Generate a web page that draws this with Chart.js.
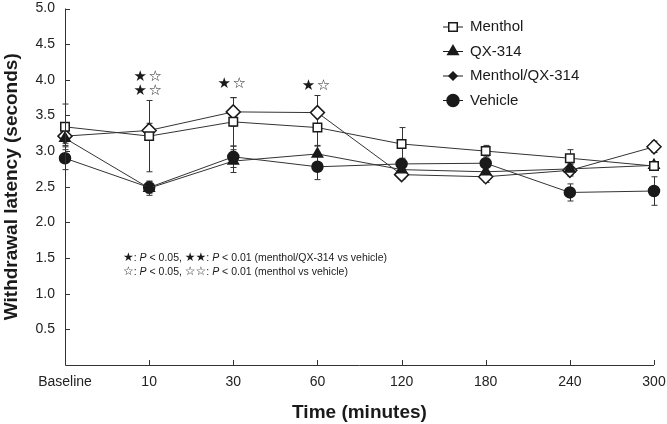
<!DOCTYPE html>
<html>
<head>
<meta charset="utf-8">
<script src="https://cdn.jsdelivr.net/npm/chart.js@4.4.0/dist/chart.umd.min.js"></script>
<style>
  html, body { margin: 0; padding: 0; background: #fff; }
  #wrap { width: 667px; height: 424px; position: relative; }
</style>
</head>
<body>
<div id="wrap"><canvas id="grafico"></canvas></div>
<script>
// --- dados ---
const tempos = ['Baseline', '10', '30', '60', '120', '180', '240', '300'];
const yTicks = [0.5, 1.0, 1.5, 2.0, 2.5, 3.0, 3.5, 4.0, 4.5, 5.0];

const menthol = [3.34, 3.21, 3.41, 3.33, 3.10, 3.00, 2.90, 2.79];
const mentholErr = [0.32, 0.50, 0.34, 0.26, 0.23, 0.08, 0.12, 0.05];
const qx314 = [3.18, 2.48, 2.86, 2.96, 2.74, 2.71, 2.75, 2.80];
const qx314Err = [0.10, 0.10, 0.16, 0.12, 0.06, 0.06, 0.08, 0.05];
const mentholQx = [3.21, 3.29, 3.55, 3.54, 2.67, 2.64, 2.73, 3.06];
const mentholQxErr = [0.10, 0.10, 0.20, 0.24, 0.06, 0.08, 0.08, 0.08];
const vehicle = [2.90, 2.49, 2.92, 2.78, 2.82, 2.83, 2.42, 2.44];
const vehicleErr = [0.16, 0.08, 0.15, 0.18, 0.08, 0.06, 0.12, 0.20];

// estrelas de significância: índice da categoria -> linhas [cheia, vazia]
const estrelas = { 1: [['★', '☆'], ['★', '☆']], 2: [['★', '☆']], 3: [['★', '☆']] };
const estrelasY = { 1: 4.04, 2: 3.94, 3: 3.91 };

const FONTE = '"Liberation Sans", Arial, sans-serif';
const PRETO = '#1a1a1a';

const series = [
    { label: 'Menthol', data: menthol, err: mentholErr, pointStyle: 'rect', radius: 6, fill: '#fff' },
    { label: 'QX-314', data: qx314, err: qx314Err, pointStyle: 'triangle', radius: 6, fill: PRETO },
    { label: 'Menthol/QX-314', data: mentholQx, err: mentholQxErr, pointStyle: 'rectRot', radius: 7, fill: '#fff' },
    { label: 'Vehicle', data: vehicle, err: vehicleErr, pointStyle: 'circle', radius: 5.5, fill: PRETO }
];

// barras de erro, eixos com ticks para dentro, legenda e anotações
const pluginExtras = {
    id: 'extras',
    beforeDatasetsDraw(chart) {
        const ctx = chart.ctx;
        const x = chart.scales.x, y = chart.scales.y;
        ctx.save();
        ctx.strokeStyle = '#333';
        ctx.lineWidth = 1;
        series.forEach(s => {
            s.data.forEach((v, i) => {
                const px = Math.round(x.getPixelForValue(i)) + 0.5;
                const top = y.getPixelForValue(v + s.err[i]);
                const bot = y.getPixelForValue(v - s.err[i]);
                ctx.beginPath();
                ctx.moveTo(px, top); ctx.lineTo(px, bot);
                ctx.moveTo(px - 3, top); ctx.lineTo(px + 3, top);
                ctx.moveTo(px - 3, bot); ctx.lineTo(px + 3, bot);
                ctx.stroke();
            });
        });
        ctx.restore();
    },
    afterDraw(chart) {
        const ctx = chart.ctx;
        const x = chart.scales.x, y = chart.scales.y;
        const area = chart.chartArea;
        ctx.save();
        // eixos
        ctx.strokeStyle = '#333';
        ctx.lineWidth = 1;
        ctx.beginPath();
        ctx.moveTo(area.left + 0.5, area.top);
        ctx.lineTo(area.left + 0.5, area.bottom + 0.5);
        ctx.lineTo(area.right, area.bottom + 0.5);
        yTicks.forEach(t => {
            const py = Math.round(y.getPixelForValue(t)) + 0.5;
            ctx.moveTo(area.left, py); ctx.lineTo(area.left + 5, py);
        });
        tempos.forEach((t, i) => {
            if (i === 0) return;
            const px = Math.round(x.getPixelForValue(i)) + 0.5;
            ctx.moveTo(px, area.bottom); ctx.lineTo(px, area.bottom - 5);
        });
        ctx.stroke();

        // estrelas
        ctx.fillStyle = PRETO;
        ctx.font = '15px "DejaVu Sans", sans-serif';
        ctx.textAlign = 'center';
        ctx.textBaseline = 'middle';
        Object.keys(estrelas).forEach(k => {
            const px = x.getPixelForValue(+k) - 2;
            const py = y.getPixelForValue(estrelasY[k]);
            estrelas[k].forEach((linha, j) => {
                ctx.fillText(linha[0], px - 7, py + j * 14);
                ctx.fillText(linha[1], px + 8, py + j * 14);
            });
        });

        // nota de rodapé
        const notas = [
            [['★', 'sym'], [': ', 'n'], ['P', 'i'], [' < 0.05, ', 'n'], ['★★', 'sym'], [': ', 'n'], ['P', 'i'], [' < 0.01 (menthol/QX-314 vs vehicle)', 'n']],
            [['☆', 'sym'], [': ', 'n'], ['P', 'i'], [' < 0.05, ', 'n'], ['☆☆', 'sym'], [': ', 'n'], ['P', 'i'], [' < 0.01 (menthol vs vehicle)', 'n']]
        ];
        ctx.textAlign = 'left';
        notas.forEach((linha, j) => {
            let cx = 123;
            const cy = 258 + j * 14;
            linha.forEach(([txt, tipo]) => {
                if (tipo === 'sym') ctx.font = '12px "DejaVu Sans", sans-serif';
                else if (tipo === 'i') ctx.font = 'italic 10.5px ' + FONTE;
                else ctx.font = '10.5px ' + FONTE;
                ctx.fillText(txt, cx, cy);
                cx += ctx.measureText(txt).width;
            });
        });

        // legenda
        ctx.font = '15px ' + FONTE;
        ctx.textBaseline = 'middle';
        series.forEach((s, i) => {
            const ly = 27 + i * 24.5;
            const lx = 453;
            ctx.strokeStyle = PRETO;
            ctx.lineWidth = 1;
            ctx.beginPath();
            ctx.moveTo(lx - 10, ly); ctx.lineTo(lx + 10, ly);
            ctx.stroke();
            const ehCombo = s.label === 'Menthol/QX-314';
            ctx.fillStyle = ehCombo ? PRETO : s.fill;
            ctx.lineWidth = 1.5;
            Chart.helpers.drawPoint(ctx, { pointStyle: s.pointStyle, radius: ehCombo ? 4 : 6, borderWidth: 1.5 }, lx, ly);
            ctx.fillStyle = PRETO;
            ctx.fillText(s.label, 470, ly);
        });
        ctx.restore();
    }
};

new Chart(document.getElementById('grafico').getContext('2d'), {
    type: 'line',
    data: {
        labels: tempos,
        datasets: series.map(s => ({
            label: s.label,
            data: s.data,
            borderColor: '#333',
            borderWidth: 1,
            pointStyle: s.pointStyle,
            pointRadius: s.radius,
            pointBackgroundColor: s.fill,
            pointBorderColor: PRETO,
            pointBorderWidth: 1.5,
            tension: 0,
            fill: false
        }))
    },
    options: {
        responsive: true,
        maintainAspectRatio: false,
        animation: false,
        layout: { padding: { top: 7, right: 13, left: 0, bottom: 0 } },
        plugins: { legend: { display: false }, tooltip: { enabled: false } },
        scales: {
            x: {
                type: 'category',
                offset: false,
                grid: { display: false, drawTicks: false },
                border: { display: false },
                ticks: { color: '#222', font: { family: FONTE, size: 14 }, padding: 9, maxRotation: 0, autoSkip: false },
                title: { display: true, text: 'Time (minutes)', color: PRETO, font: { family: FONTE, size: 19, weight: 'bold' }, padding: { top: 6, bottom: 0 } },
                afterFit(scale) { scale.height = 59; scale.paddingLeft = 0; scale.paddingRight = 0; }
            },
            y: {
                min: 0,
                max: 5,
                grid: { display: false, drawTicks: false },
                border: { display: false },
                ticks: {
                    stepSize: 0.5,
                    color: '#222',
                    font: { family: FONTE, size: 14 },
                    padding: 10,
                    callback: v => v === 0 ? '' : v.toFixed(1)
                },
                title: { display: true, text: 'Withdrawal latency (seconds)', color: PRETO, font: { family: FONTE, size: 19, weight: 'bold' }, padding: { top: 0, bottom: 2 } },
                afterFit(scale) { scale.width = 65; scale.paddingTop = 0; scale.paddingBottom = 0; }
            }
        }
    },
    plugins: [pluginExtras]
});
</script>
</body>
</html>
